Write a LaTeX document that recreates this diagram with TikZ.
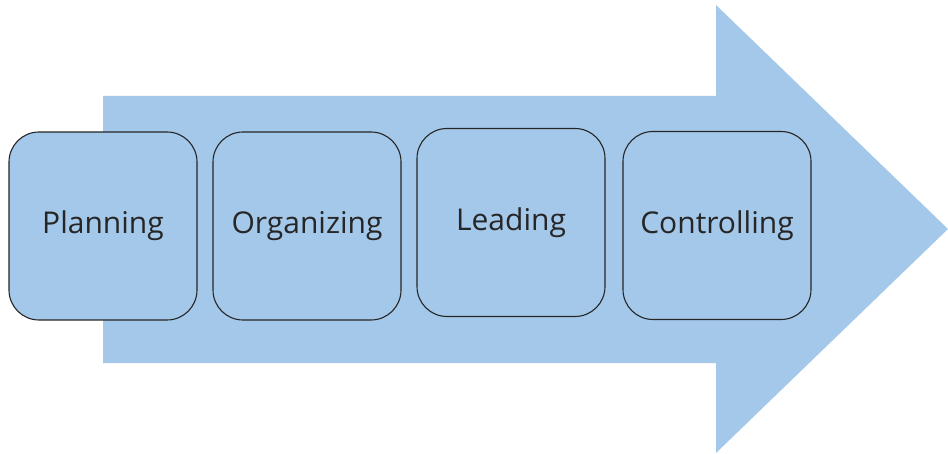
\documentclass[tikz,border=0pt]{standalone}
\usepackage{fontspec}
\newfontfamily\boxfont{Open Sans}
\definecolor{arrowblue}{RGB}{164,200,234}
\definecolor{edgegray}{RGB}{38,38,38}
\begin{document}
\begin{tikzpicture}[x=1pt,y=-1pt,
  stage/.style={draw=edgegray,line width=1.1pt,fill=arrowblue,rounded corners=30pt,
    minimum width=188pt,minimum height=188pt,inner sep=0pt,font=\boxfont\fontsize{30}{36}\selectfont,text=black!85}]
\useasboundingbox (0,0) rectangle (948,454);
\fill[arrowblue] (103,96) -- (716,96) -- (716,5) -- (948,229) -- (716,453) -- (716,363) -- (103,363) -- cycle;
\node[stage] (plan) at (103,226) {Planning};
\node[stage] (org) at (307,226) {Organizing};
\node[stage] (lead) at (511,222.5) {Leading};
\node[stage] (ctrl) at (717,225.5) {Controlling};
\end{tikzpicture}
\end{document}
